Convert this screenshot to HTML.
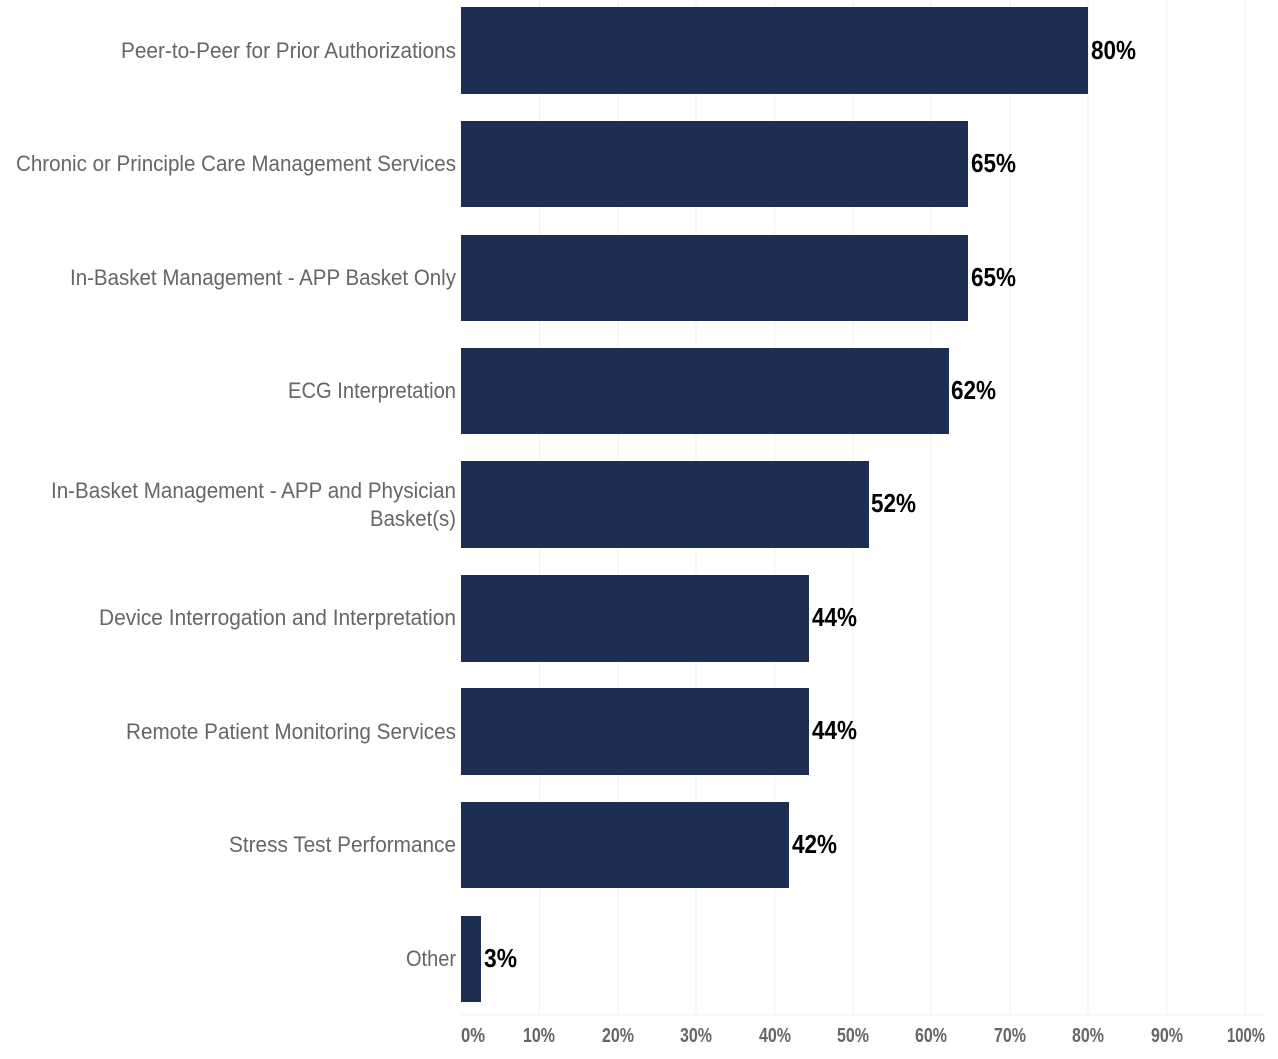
<!DOCTYPE html>
<html><head><style>
html,body{margin:0;padding:0;background:#fff;}
svg text{font-family:"Liberation Sans Narrow","Liberation Sans",sans-serif;}
</style></head><body>
<svg width="1278" height="1054" xmlns="http://www.w3.org/2000/svg">
<g stroke="#f0f2ee" stroke-width="1">
<line x1="539.5" y1="0" x2="539.5" y2="1015"/><line x1="618" y1="0" x2="618" y2="1015"/>
<line x1="696" y1="0" x2="696" y2="1015"/><line x1="775" y1="0" x2="775" y2="1015"/>
<line x1="853" y1="0" x2="853" y2="1015"/><line x1="931" y1="0" x2="931" y2="1015"/>
<line x1="1010" y1="0" x2="1010" y2="1015"/><line x1="1088" y1="0" x2="1088" y2="1015"/>
<line x1="1167" y1="0" x2="1167" y2="1015"/><line x1="1245" y1="0" x2="1245" y2="1015"/>
<line x1="461" y1="1015" x2="1265" y2="1015"/>
</g>
<g fill="#1e2d52">
<rect x="461" y="7" width="627" height="87"/>
<rect x="461" y="121" width="507" height="86"/>
<rect x="461" y="235" width="507" height="86"/>
<rect x="461" y="348" width="488" height="86"/>
<rect x="461" y="461" width="408" height="87"/>
<rect x="461" y="575" width="348" height="87"/>
<rect x="461" y="688" width="348" height="87"/>
<rect x="461" y="802" width="328" height="86"/>
<rect x="461" y="916" width="20" height="86"/>
</g>
<g fill="#666" font-size="22" lengthAdjust="spacingAndGlyphs">
<text x="121" y="58" textLength="335" lengthAdjust="spacingAndGlyphs">Peer-to-Peer for Prior Authorizations</text>
<text x="16" y="171" textLength="440" lengthAdjust="spacingAndGlyphs">Chronic or Principle Care Management Services</text>
<text x="70" y="285" textLength="386" lengthAdjust="spacingAndGlyphs">In-Basket Management - APP Basket Only</text>
<text x="288" y="398" textLength="168" lengthAdjust="spacingAndGlyphs">ECG Interpretation</text>
<text x="51" y="498" textLength="405" lengthAdjust="spacingAndGlyphs">In-Basket Management - APP and Physician</text>
<text x="370" y="526" textLength="86" lengthAdjust="spacingAndGlyphs">Basket(s)</text>
<text x="99" y="625" textLength="357" lengthAdjust="spacingAndGlyphs">Device Interrogation and Interpretation</text>
<text x="126" y="739" textLength="330" lengthAdjust="spacingAndGlyphs">Remote Patient Monitoring Services</text>
<text x="229" y="852" textLength="227" lengthAdjust="spacingAndGlyphs">Stress Test Performance</text>
<text x="406" y="966" textLength="50" lengthAdjust="spacingAndGlyphs">Other</text>
</g>
<g fill="#000" font-size="26" font-weight="bold">
<text x="1091" y="59" textLength="45" lengthAdjust="spacingAndGlyphs">80%</text>
<text x="971" y="172" textLength="45" lengthAdjust="spacingAndGlyphs">65%</text>
<text x="971" y="286" textLength="45" lengthAdjust="spacingAndGlyphs">65%</text>
<text x="951" y="399" textLength="45" lengthAdjust="spacingAndGlyphs">62%</text>
<text x="871" y="512" textLength="45" lengthAdjust="spacingAndGlyphs">52%</text>
<text x="812" y="626" textLength="45" lengthAdjust="spacingAndGlyphs">44%</text>
<text x="812" y="739" textLength="45" lengthAdjust="spacingAndGlyphs">44%</text>
<text x="792" y="853" textLength="45" lengthAdjust="spacingAndGlyphs">42%</text>
<text x="484" y="967" textLength="33" lengthAdjust="spacingAndGlyphs">3%</text>
</g>
<g fill="#666" font-size="20" font-weight="bold">
<text x="461" y="1042" textLength="24" lengthAdjust="spacingAndGlyphs">0%</text>
<text x="523" y="1042" textLength="32" lengthAdjust="spacingAndGlyphs">10%</text>
<text x="602" y="1042" textLength="32" lengthAdjust="spacingAndGlyphs">20%</text>
<text x="680" y="1042" textLength="32" lengthAdjust="spacingAndGlyphs">30%</text>
<text x="759" y="1042" textLength="32" lengthAdjust="spacingAndGlyphs">40%</text>
<text x="837" y="1042" textLength="32" lengthAdjust="spacingAndGlyphs">50%</text>
<text x="915" y="1042" textLength="32" lengthAdjust="spacingAndGlyphs">60%</text>
<text x="994" y="1042" textLength="32" lengthAdjust="spacingAndGlyphs">70%</text>
<text x="1072" y="1042" textLength="32" lengthAdjust="spacingAndGlyphs">80%</text>
<text x="1151" y="1042" textLength="32" lengthAdjust="spacingAndGlyphs">90%</text>
<text x="1227" y="1042" textLength="38" lengthAdjust="spacingAndGlyphs">100%</text>
</g>
</svg>
</body></html>
